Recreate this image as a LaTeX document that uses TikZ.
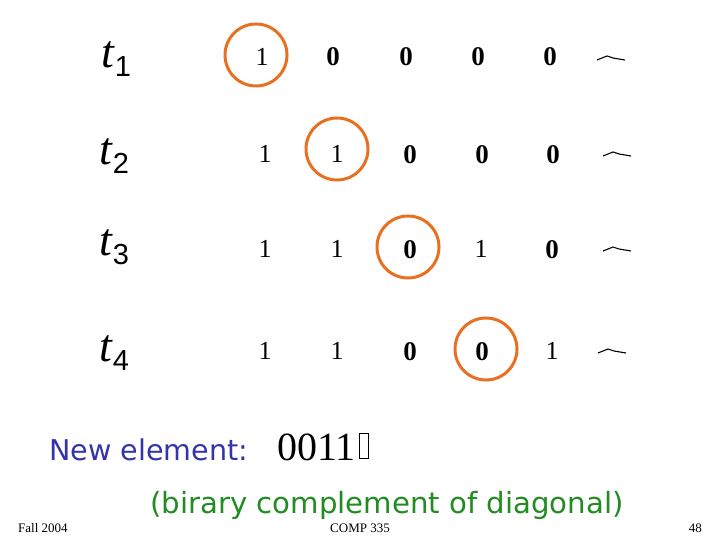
\documentclass[tikz,border=0pt]{standalone}
\usepackage{fontspec}
\setmainfont{Liberation Serif}
\newfontfamily\comicfont{DejaVu Sans}
\newfontfamily\subfont{Liberation Sans}
\definecolor{circorange}{RGB}{232,112,34}
\definecolor{newblue}{RGB}{51,51,170}
\definecolor{compgreen}{RGB}{34,140,34}
\newcommand{\tsub}[1]{{\fontsize{46}{46}\selectfont\textit{t}}\raisebox{-9pt}{\subfont\fontsize{29}{29}\selectfont #1}}
\begin{document}
\begin{tikzpicture}[x=1pt,y=-1pt,
  digit/.style={inner sep=0pt,font=\fontsize{26}{26}\selectfont},
  zero/.style={inner sep=0pt,font=\fontsize{27}{27}\selectfont\bfseries},
  tlabel/.style={inner sep=0pt},
  ring/.style={draw=circorange,line width=3pt,circle,minimum size=62pt,inner sep=0pt},
  frownmark/.style={line width=1.1pt}]
\useasboundingbox (0,0) rectangle (720,540);
% row labels
\node[tlabel] (t1) at (116,59) {\tsub{1}};
\node[tlabel] (t2) at (114,156) {\tsub{2}};
\node[tlabel] (t3) at (114,247) {\tsub{3}};
\node[tlabel] (t4) at (114,353) {\tsub{4}};
% row 1
\node[digit] (a11) at (262,57) {1};
\node[zero] (a12) at (333,57) {0};
\node[zero] (a13) at (406,57) {0};
\node[zero] (a14) at (478,57) {0};
\node[zero] (a15) at (550,57) {0};
% row 2
\node[digit] (a21) at (265,154) {1};
\node[digit] (a22) at (337,154) {1};
\node[zero] (a23) at (410,155) {0};
\node[zero] (a24) at (482,155) {0};
\node[zero] (a25) at (553,155) {0};
% row 3
\node[digit] (a31) at (265,249) {1};
\node[digit] (a32) at (337,249) {1};
\node[zero] (a33) at (410,250) {0};
\node[digit] (a34) at (481,249) {1};
\node[zero] (a35) at (552,250) {0};
% row 4
\node[digit] (a41) at (265,351) {1};
\node[digit] (a42) at (337,351) {1};
\node[zero] (a43) at (410,352) {0};
\node[zero] (a44) at (482,352) {0};
\node[digit] (a45) at (552,351) {1};
% circles on diagonal
\node[ring] (c1) at (256,55) {};
\node[ring] (c2) at (337,149) {};
\node[ring] (c3) at (408,247) {};
\node[ring] (c4) at (486,349) {};
% trailing marks
\coordinate (f1) at (611,60);
\coordinate (f2) at (617,156);
\coordinate (f3) at (617,251);
\coordinate (f4) at (612,353);
\foreach \f in {f1,f2,f3,f4}{
  \draw[frownmark] ([xshift=-14pt]\f) -- ([xshift=-4pt,yshift=4pt]\f) -- ([xshift=2pt,yshift=2pt]\f) -- ([xshift=14pt]\f);
}
% new element
\node[anchor=west,inner sep=0pt,text=newblue,font=\comicfont\fontsize{28.6}{28.6}\selectfont] (ne) at (49,450) {New element:};
\node[anchor=west,inner sep=0pt,font=\fontsize{40}{40}\selectfont] (bits) at (277,447) {0011};
\draw[line width=1pt] (359,433) rectangle (368,458);
\node[anchor=west,inner sep=0pt,text=compgreen,font=\comicfont\fontsize{29.2}{29.2}\selectfont] (bc) at (150,505) {(birary complement of diagonal)};
% footer
\node[anchor=west,inner sep=0pt,font=\fontsize{13}{13}\selectfont] (fall) at (18,528) {Fall 2004};
\node[inner sep=0pt,font=\fontsize{13}{13}\selectfont] (comp) at (360,528) {COMP 335};
\node[anchor=east,inner sep=0pt,font=\fontsize{13}{13}\selectfont] (pg) at (702,528) {48};
\end{tikzpicture}
\end{document}
